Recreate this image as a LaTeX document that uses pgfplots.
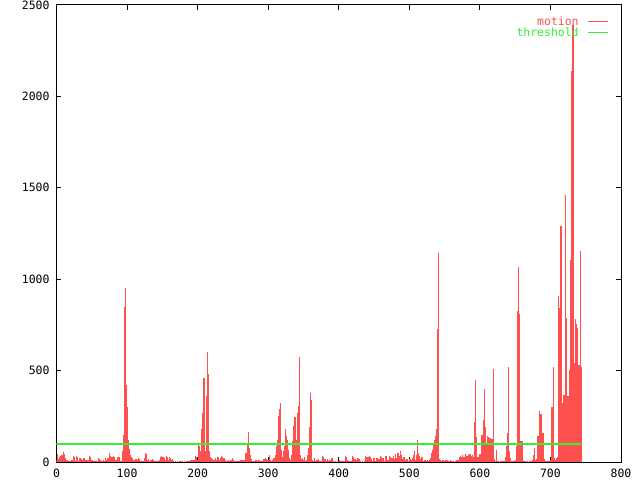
\documentclass[border=0pt]{standalone}
\usepackage{fontspec}
\setmainfont{DejaVu Sans Mono}
\usepackage{pgfplots}
\pgfplotsset{compat=1.18}
\definecolor{motionred}{RGB}{255,80,80}
\definecolor{threshgreen}{RGB}{50,240,50}
\begin{document}
\begin{tikzpicture}
\path[use as bounding box] (-56.5bp,-18bp) rectangle (583.5bp,462bp);
\begin{axis}[
  at={(0,0)}, anchor=south west,
  scale only axis, width=564.5bp, height=457bp,
  xmin=0, xmax=800, ymin=0, ymax=2500,
  xtick={0,100,...,800}, ytick={0,500,...,2500},
  axis line style={line width=1bp, black},
  every tick/.style={black, line width=1bp},
  major tick length=5bp,
  tick align=inside,
  ticklabel style={font=\fontsize{11.5}{12}\selectfont},
  /pgf/number format/assume math mode=true,
  /pgf/number format/1000 sep={},
  yticklabel style={xshift=-3.5bp},
  xticklabel style={yshift=-3bp},
  legend cell align=right,
  legend plot pos=right,
  legend style={at={(1,1)}, anchor=north east, xshift=-12bp, yshift=-12.7bp,
    draw=none, fill=none, inner sep=0pt, font=\fontsize{11.5}{12}\selectfont,
    column sep=9bp, row sep=0pt,
    nodes={inner sep=0pt, text height=8bp, text depth=3bp}},
]
\addplot[ycomb, motionred, line width=1.05bp,
  legend image code/.code={\draw[motionred, line width=1.2bp] (0bp,2bp) -- (20bp,2bp);}]
  table[row sep=\\, header=false, x expr=\coordindex, y index=0] {
10\\20\\45\\15\\30\\31\\28\\40\\36\\22\\
53\\45\\18\\22\\13\\10\\4\\5\\3\\6\\
4\\9\\7\\13\\35\\30\\9\\8\\13\\35\\
28\\4\\22\\20\\22\\18\\16\\9\\12\\22\\
18\\9\\4\\13\\10\\5\\9\\35\\30\\9\\
13\\11\\4\\3\\7\\5\\4\\3\\4\\22\\
16\\15\\13\\10\\4\\3\\9\\13\\7\\8\\
22\\13\\12\\22\\20\\49\\31\\22\\25\\27\\
22\\35\\30\\13\\4\\9\\8\\27\\25\\27\\
7\\3\\4\\3\\60\\150\\160\\850\\950\\420\\
300\\180\\120\\70\\45\\40\\25\\20\\12\\10\\
13\\9\\16\\14\\16\\12\\20\\18\\9\\6\\
4\\3\\5\\2\\4\\20\\49\\45\\40\\13\\
10\\15\\8\\13\\12\\9\\14\\10\\7\\5\\
7\\4\\8\\6\\3\\7\\9\\27\\25\\31\\
28\\30\\22\\22\\9\\7\\31\\28\\13\\9\\
27\\22\\13\\9\\16\\14\\4\\2\\3\\5\\
2\\4\\3\\2\\5\\3\\2\\4\\3\\4\\
2\\3\\5\\2\\4\\3\\2\\4\\3\\5\\
9\\7\\9\\6\\9\\8\\9\\31\\25\\20\\
12\\100\\90\\70\\60\\110\\180\\270\\430\\460\\
380\\60\\250\\360\\600\\480\\220\\60\\30\\20\\
16\\14\\9\\8\\9\\22\\20\\13\\27\\25\\
13\\10\\22\\20\\31\\28\\22\\22\\20\\13\\
9\\5\\4\\6\\9\\4\\3\\13\\9\\22\\
20\\9\\8\\4\\3\\4\\2\\3\\4\\3\\
4\\13\\12\\9\\8\\9\\7\\9\\49\\45\\
49\\104\\164\\49\\75\\40\\16\\4\\3\\4\\
2\\4\\13\\12\\7\\5\\7\\9\\6\\7\\
5\\8\\6\\7\\16\\14\\20\\18\\13\\10\\
9\\8\\40\\9\\8\\7\\9\\8\\22\\20\\
20\\40\\85\\120\\231\\253\\288\\310\\323\\66\\
30\\30\\60\\90\\120\\178\\142\\120\\102\\66\\
20\\5\\10\\40\\66\\113\\197\\230\\248\\75\\
120\\148\\268\\306\\320\\576\\40\\15\\12\\20\\
10\\30\\15\\8\\12\\10\\40\\75\\30\\193\\
377\\340\\30\\12\\8\\22\\9\\5\\13\\4\\
9\\18\\6\\4\\4\\3\\5\\31\\28\\25\\
16\\14\\7\\5\\16\\6\\4\\13\\9\\12\\
22\\20\\4\\3\\2\\4\\3\\2\\4\\3\\
5\\9\\7\\4\\3\\2\\4\\3\\5\\4\\
31\\28\\13\\7\\6\\5\\4\\3\\5\\4\\
31\\28\\9\\16\\14\\12\\6\\22\\20\\18\\
4\\3\\2\\4\\3\\2\\4\\3\\35\\30\\
16\\27\\25\\13\\35\\30\\16\\7\\8\\22\\
20\\9\\7\\4\\22\\20\\9\\16\\14\\35\\
30\\9\\22\\20\\7\\8\\35\\33\\16\\13\\
13\\11\\35\\30\\9\\22\\20\\35\\30\\16\\
45\\40\\22\\20\\49\\40\\31\\58\\55\\40\\
16\\14\\27\\25\\13\\10\\16\\14\\16\\4\\
16\\14\\16\\9\\22\\22\\40\\58\\55\\13\\
40\\122\\60\\49\\31\\28\\16\\27\\25\\9\\
5\\4\\13\\9\\6\\4\\13\\7\\9\\5\\
22\\30\\49\\67\\80\\104\\120\\140\\157\\179\\
727\\1145\\448\\15\\12\\8\\4\\13\\9\\5\\
4\\3\\13\\4\\9\\5\\4\\3\\5\\13\\
4\\3\\4\\3\\2\\4\\3\\13\\9\\11\\
13\\29\\20\\33\\25\\13\\38\\30\\29\\44\\
40\\33\\35\\29\\40\\38\\45\\38\\33\\29\\
40\\30\\219\\219\\448\\137\\30\\25\\30\\45\\
40\\45\\40\\147\\147\\230\\400\\344\\193\\67\\
100\\142\\135\\130\\130\\130\\125\\125\\125\\507\\
15\\10\\8\\67\\12\\4\\3\\4\\2\\3\\
4\\2\\3\\4\\3\\5\\4\\30\\85\\158\\
222\\521\\60\\20\\13\\4\\3\\5\\4\\3\\
2\\9\\85\\157\\826\\1068\\810\\117\\117\\117\\
117\\15\\8\\5\\4\\3\\2\\4\\3\\2\\
3\\4\\2\\3\\5\\10\\40\\79\\20\\10\\
15\\20\\143\\143\\193\\280\\262\\262\\193\\157\\
157\\15\\8\\5\\4\\3\\5\\4\\3\\5\\
10\\303\\285\\300\\521\\364\\20\\10\\15\\20\\
30\\60\\908\\841\\500\\1290\\667\\321\\321\\366\\
366\\1460\\1350\\786\\361\\361\\361\\503\\503\\1105\\
2140\\1500\\2390\\540\\540\\780\\760\\755\\731\\731\\
530\\530\\1154\\530\\520\\
};
\addlegendentry{\textcolor{motionred}{motion}}
\addplot[draw=threshgreen, line width=2bp, mark=none,
  legend image code/.code={\draw[threshgreen, line width=1.2bp] (0bp,2bp) -- (20bp,2bp);}]
  coordinates {(0,100) (744,100)};
\addlegendentry{\textcolor{threshgreen}{threshold}}
\end{axis}
\end{tikzpicture}
\end{document}
